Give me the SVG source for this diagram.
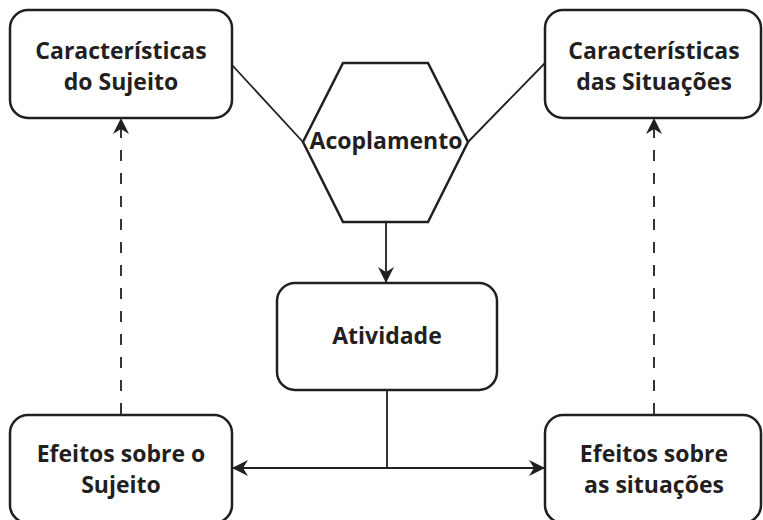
<svg xmlns="http://www.w3.org/2000/svg" width="763" height="520" viewBox="0 0 763 520">
<defs>
<style>
.box{fill:#fff;stroke:#231f20;stroke-width:2.5}
.ln{fill:none;stroke:#231f20;stroke-width:1.8}
.dash{fill:none;stroke:#231f20;stroke-width:1.8;stroke-dasharray:11 12}
text{font-family:"Open Sans","Liberation Sans",sans-serif;font-weight:bold;font-size:23px;fill:#231f20;text-anchor:middle}
</style>
<marker id="ah" viewBox="0 0 16 16" refX="15" refY="8" markerWidth="16" markerHeight="16" markerUnits="userSpaceOnUse" orient="auto">
<path d="M0,0 L16,8 L0,16 L5,8 Z" fill="#231f20"/>
</marker>
</defs>
<rect width="763" height="520" fill="#fff"/>
<g id="connectors">
<line class="ln" x1="232" y1="65" x2="303" y2="142"/>
<line class="ln" x1="545" y1="63" x2="468" y2="142"/>
<line class="ln" x1="386" y1="222" x2="386" y2="282" marker-end="url(#ah)"/>
<line class="ln" x1="387" y1="390" x2="387" y2="468"/>
<line class="ln" x1="387" y1="468" x2="233" y2="468" marker-end="url(#ah)"/>
<line class="ln" x1="387" y1="468" x2="544" y2="468" marker-end="url(#ah)"/>
<line class="dash" x1="121" y1="414" x2="121" y2="119" marker-end="url(#ah)"/>
<line class="dash" x1="654" y1="414" x2="654" y2="119" marker-end="url(#ah)"/>
</g>
<g id="caracteristicas-sujeito">
<rect class="box" x="10" y="10" width="222" height="108" rx="18"/>
<text x="121" y="59">Características</text>
<text x="121" y="90">do Sujeito</text>
</g>
<g id="caracteristicas-situacoes">
<rect class="box" x="545" y="10" width="216" height="108" rx="18"/>
<text x="654" y="59">Características</text>
<text x="654" y="90">das Situações</text>
</g>
<g id="acoplamento">
<polygon class="box" points="343,63 428,63 468,142 428,222 343,222 303,142"/>
<text x="386" y="149">Acoplamento</text>
</g>
<g id="atividade">
<rect class="box" x="277" y="283" width="220" height="107" rx="18"/>
<text x="387" y="344">Atividade</text>
</g>
<g id="efeitos-sujeito">
<rect class="box" x="10" y="415" width="222" height="108" rx="18"/>
<text x="121" y="462">Efeitos sobre o</text>
<text x="121" y="493">Sujeito</text>
</g>
<g id="efeitos-situacoes">
<rect class="box" x="545" y="415" width="216" height="108" rx="18"/>
<text x="654" y="462">Efeitos sobre</text>
<text x="654" y="493">as situações</text>
</g>
</svg>
